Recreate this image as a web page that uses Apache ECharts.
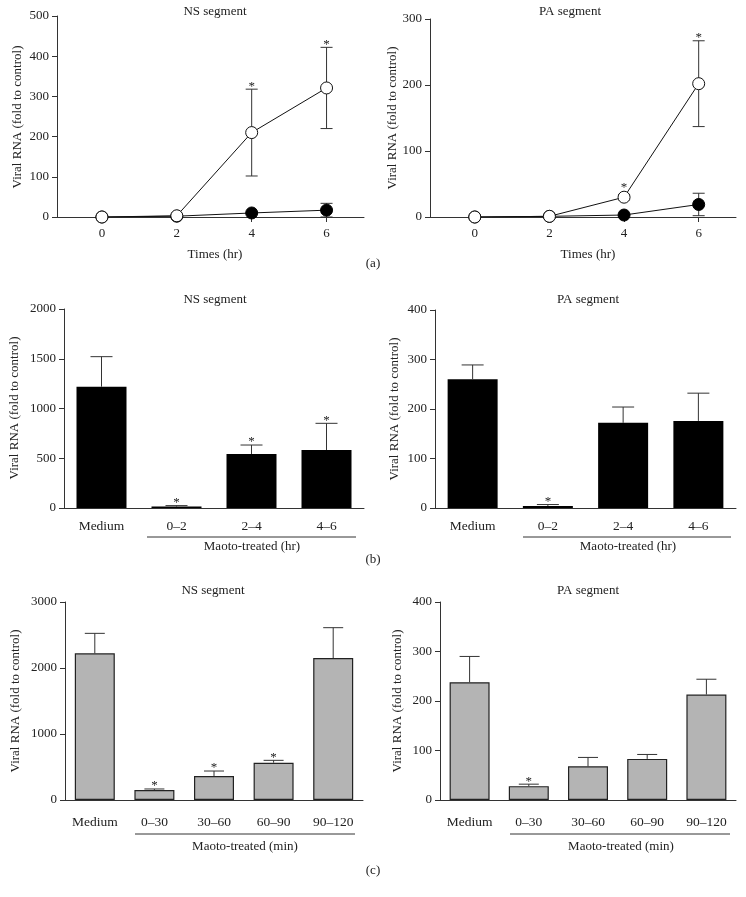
<!DOCTYPE html>
<html>
<head>
<meta charset="utf-8">
<script src="https://cdn.jsdelivr.net/npm/echarts@6/dist/echarts.min.js"></script>
<style>
  html, body { margin: 0; padding: 0; background: #fff; }
  #main { width: 746px; height: 897px; }
</style>
</head>
<body>
<div id="main"></div>
<script>
// (a) 时间曲线数据
var timePoints = [0, 2, 4, 6];
var nsOpen = [0, 3, 210, 321];
var nsOpenErr = [0, 0, 108, 101];
var nsFilled = [0, 2, 10, 17];
var nsFilledErr = [0, 0, 0, 17];
var nsTimeStar = [2, 3];
var paOpen = [0, 1, 30, 202];
var paOpenErr = [0, 0, 4, 65];
var paFilled = [0, 1, 3, 19];
var paFilledErr = [0, 0, 0, 17];
var paTimeStar = [2, 3];

// (b) 小时分段
var hrCats = ['Medium', '0\u20132', '2\u20134', '4\u20136'];
var nsHr = [1219, 14, 543, 583];
var nsHrErr = [302, 10, 90, 268];
var nsHrStar = [1, 2, 3];
var paHr = [260, 4, 172, 176];
var paHrErr = [29, 3, 32, 56];
var paHrStar = [1];

// (c) 分钟分段
var minCats = ['Medium', '0\u201330', '30\u201360', '60\u201390', '90\u2013120'];
var nsMin = [2222, 151, 364, 565, 2151];
var nsMinErr = [303, 16, 75, 36, 460];
var nsMinStar = [1, 2, 3];
var paMin = [238, 28, 68, 83, 213];
var paMinErr = [52, 4, 18, 9, 31];
var paMinStar = [1];

// y 轴刻度
var yMax = [500, 300, 2000, 400, 3000, 400];
var yStep = [100, 100, 500, 100, 1000, 100];

var FONT = '"Liberation Serif", "DejaVu Serif", serif';
var INK = '#222';
var AX = '#333';

var chart = echarts.init(document.getElementById('main'));

var grids = [
  {left: 57, top: 16, width: 307, height: 201},
  {left: 430, top: 19, width: 306, height: 198},
  {left: 64, top: 309, width: 300, height: 199},
  {left: 435, top: 310, width: 301, height: 198},
  {left: 65, top: 602, width: 298, height: 198},
  {left: 440, top: 602, width: 296, height: 198}
];

var xAxes = [];
var yAxes = [];
for (var i = 0; i < 6; i++) {
  var lab = {color: INK, fontFamily: FONT, fontSize: 13};
  if (i < 2) {
    xAxes.push({
      type: 'value', gridIndex: i, min: -1.2, max: 7,
      axisLine: {onZero: false, lineStyle: {color: AX}},
      axisTick: {customValues: timePoints, length: 5, lineStyle: {color: AX}},
      axisLabel: Object.assign({customValues: timePoints, margin: 10}, lab),
      splitLine: {show: false}
    });
  } else {
    xAxes.push({
      type: 'category', gridIndex: i, data: i < 4 ? hrCats : minCats,
      axisLine: {onZero: false, lineStyle: {color: AX}},
      axisTick: {alignWithLabel: true, length: 5, lineStyle: {color: AX}},
      axisLabel: Object.assign({margin: i < 4 ? 11 : 15, interval: 0, fontSize: 13.5}, {color: INK, fontFamily: FONT})
    });
  }
  yAxes.push({
    type: 'value', gridIndex: i, min: 0, max: yMax[i], interval: yStep[i],
    axisLine: {show: true, onZero: false, lineStyle: {color: AX}},
    axisTick: {show: true, length: 5, lineStyle: {color: AX}},
    axisLabel: Object.assign({margin: 8, formatter: function (v) { return String(v); }}, lab),
    splitLine: {show: false}
  });
}

// 误差线
function errRender(capW, twoSided) {
  return function (params, api) {
    var x = api.value(0);
    var lo = api.coord([x, api.value(1)]);
    var hi = api.coord([x, api.value(2)]);
    if (Math.abs(hi[1] - lo[1]) < 0.5) return;
    var st = {stroke: AX, lineWidth: 1};
    var kids = [
      {type: 'line', shape: {x1: hi[0], y1: hi[1], x2: lo[0], y2: lo[1]}, style: st},
      {type: 'line', shape: {x1: hi[0] - capW / 2, y1: hi[1], x2: hi[0] + capW / 2, y2: hi[1]}, style: st}
    ];
    if (twoSided) {
      kids.push({type: 'line', shape: {x1: lo[0] - capW / 2, y1: lo[1], x2: lo[0] + capW / 2, y2: lo[1]}, style: st});
    }
    return {type: 'group', children: kids};
  };
}

// 星号
function starRender(params, api) {
  var x = api.value(0);
  var top = api.coord([x, api.value(1)]);
  var mid = api.coord([x, api.value(2)]);
  var y = Math.min(top[1], mid[1] - api.value(3)) - 3;
  return {
    type: 'text',
    style: {x: top[0], y: y, text: '*', fill: INK, font: '13px ' + FONT,
      textAlign: 'center', textVerticalAlign: 'middle'}
  };
}

var series = [];

function addTime(gi, open, openErr, filled, filledErr, stars) {
  var fData = [], oData = [], fErr = [], oErr = [], sData = [];
  for (var k = 0; k < timePoints.length; k++) {
    var t = timePoints[k];
    fData.push([t, filled[k]]);
    oData.push([t, open[k]]);
    fErr.push([t, filled[k] - filledErr[k], filled[k] + filledErr[k]]);
    oErr.push([t, open[k] - openErr[k], open[k] + openErr[k]]);
  }
  stars.forEach(function (k) {
    sData.push([timePoints[k], open[k] + openErr[k], open[k], 7]);
  });
  series.push({type: 'custom', xAxisIndex: gi, yAxisIndex: gi, z: 1, silent: true,
    renderItem: errRender(12, true), data: fErr, encode: {x: 0, y: [1, 2]}});
  series.push({type: 'custom', xAxisIndex: gi, yAxisIndex: gi, z: 1, silent: true,
    renderItem: errRender(12, true), data: oErr, encode: {x: 0, y: [1, 2]}});
  series.push({type: 'line', xAxisIndex: gi, yAxisIndex: gi, z: 2, data: fData,
    symbol: 'circle', symbolSize: 12, lineStyle: {color: '#111', width: 1},
    itemStyle: {color: '#000', borderColor: '#000', borderWidth: 1}});
  series.push({type: 'line', xAxisIndex: gi, yAxisIndex: gi, z: 3, data: oData,
    symbol: 'circle', symbolSize: 12, showAllSymbol: true, lineStyle: {color: '#111', width: 1},
    itemStyle: {color: '#fff', borderColor: '#111', borderWidth: 1}});
  series.push({type: 'custom', xAxisIndex: gi, yAxisIndex: gi, z: 4, silent: true,
    renderItem: starRender, data: sData, encode: {x: 0, y: 1}});
}

function addBars(gi, vals, errs, stars, barW, capW, fill, border) {
  var eData = [], sData = [];
  for (var k = 0; k < vals.length; k++) {
    eData.push([k, vals[k], vals[k] + errs[k]]);
  }
  stars.forEach(function (k) {
    sData.push([k, vals[k] + errs[k], vals[k], 0]);
  });
  series.push({type: 'bar', xAxisIndex: gi, yAxisIndex: gi, data: vals, barWidth: barW,
    itemStyle: {color: fill, borderColor: border, borderWidth: border ? 1.2 : 0}});
  series.push({type: 'custom', xAxisIndex: gi, yAxisIndex: gi, z: 3, silent: true,
    renderItem: errRender(capW, false), data: eData, encode: {x: 0, y: [1, 2]}});
  series.push({type: 'custom', xAxisIndex: gi, yAxisIndex: gi, z: 4, silent: true,
    renderItem: starRender, data: sData, encode: {x: 0, y: 1}});
}

addTime(0, nsOpen, nsOpenErr, nsFilled, nsFilledErr, nsTimeStar);
addTime(1, paOpen, paOpenErr, paFilled, paFilledErr, paTimeStar);
addBars(2, nsHr, nsHrErr, nsHrStar, 50, 22, '#000', null);
addBars(3, paHr, paHrErr, paHrStar, 50, 22, '#000', null);
addBars(4, nsMin, nsMinErr, nsMinStar, 40, 20, '#b4b4b4', '#222');
addBars(5, paMin, paMinErr, paMinStar, 40, 20, '#b4b4b4', '#222');

// 文字和括号
function txt(x, y, s, rot) {
  return {type: 'text', x: x, y: y, rotation: rot || 0,
    style: {text: s, fill: INK, font: '13px ' + FONT, textAlign: 'center', textVerticalAlign: 'middle'}};
}
function bracket(x1, x2, y) {
  return {type: 'line', shape: {x1: x1, y1: y, x2: x2, y2: y}, style: {stroke: AX, lineWidth: 1}};
}
var yName = 'Viral RNA (fold to control)';
var graphic = [
  txt(215, 12, 'NS segment'), txt(570, 12, 'PA segment'),
  txt(215, 300, 'NS segment'), txt(588, 300, 'PA segment'),
  txt(213, 591, 'NS segment'), txt(588, 591, 'PA segment'),
  txt(18, 117, yName, Math.PI / 2), txt(393, 118, yName, Math.PI / 2),
  txt(15, 408, yName, Math.PI / 2), txt(395, 409, yName, Math.PI / 2),
  txt(16, 701, yName, Math.PI / 2), txt(398, 701, yName, Math.PI / 2),
  txt(215, 255, 'Times (hr)'), txt(588, 255, 'Times (hr)'),
  bracket(147, 356, 537), bracket(523, 731, 537),
  txt(252, 547, 'Maoto-treated (hr)'), txt(628, 547, 'Maoto-treated (hr)'),
  bracket(135, 355, 834), bracket(510, 730, 834),
  txt(245, 847, 'Maoto-treated (min)'), txt(621, 847, 'Maoto-treated (min)'),
  txt(373, 264, '(a)'), txt(373, 560, '(b)'), txt(373, 871, '(c)')
];

chart.setOption({
  animation: false,
  backgroundColor: '#fff',
  grid: grids,
  xAxis: xAxes,
  yAxis: yAxes,
  series: series,
  graphic: graphic
});
</script>
</body>
</html>
